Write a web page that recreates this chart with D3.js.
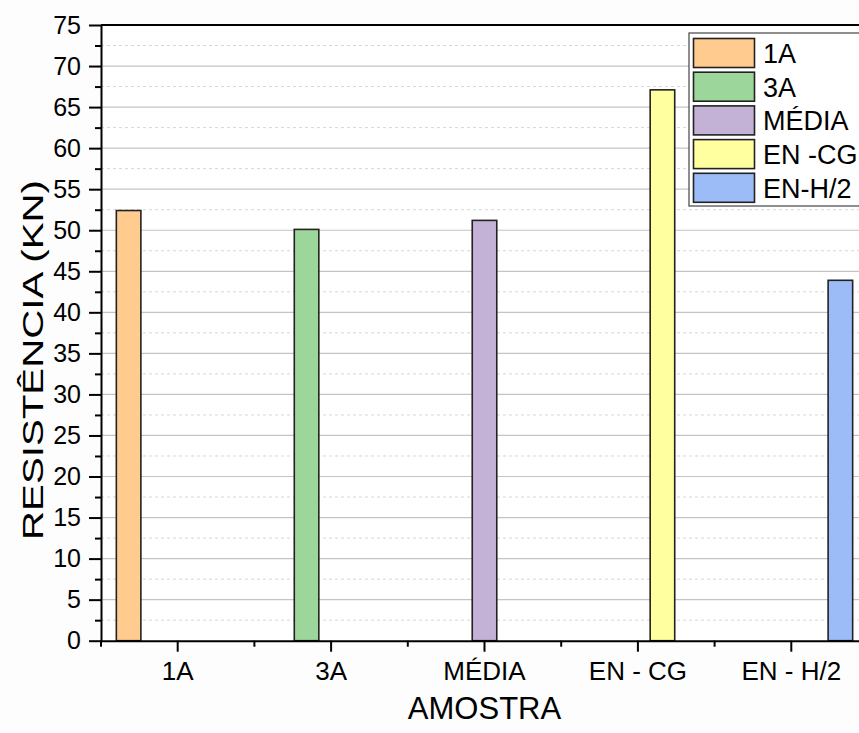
<!DOCTYPE html>
<html>
<head>
<meta charset="utf-8">
<script src="https://cdn.jsdelivr.net/npm/d3@7"></script>
<style>
  html, body { margin: 0; padding: 0; background: #fdfdfd; }
  svg { display: block; font-family: Arial, "Liberation Sans", sans-serif; }
</style>
</head>
<body>
<svg id="chart" width="859" height="733"></svg>
<script>
// ---- data ----
const categories = ["1A", "3A", "MÉDIA", "EN - CG", "EN - H/2"];
const seriesNames = ["1A", "3A", "MÉDIA", "EN -CG", "EN-H/2"];
const series1A    = [52.4, null, null, null, null];
const series3A    = [null, 50.1, null, null, null];
const seriesMedia = [null, null, 51.2, null, null];
const seriesENCG  = [null, null, null, 67.1, null];
const seriesENH2  = [null, null, null, null, 43.9];
const seriesColors = ["#FFCB8E", "#9CD69A", "#C4B1D6", "#FFFF9F", "#9BBCF6"];
const yTicks = [0, 5, 10, 15, 20, 25, 30, 35, 40, 45, 50, 55, 60, 65, 70, 75];
const yMinorTicks = [2.5, 7.5, 12.5, 17.5, 22.5, 27.5, 32.5, 37.5, 42.5, 47.5, 52.5, 57.5, 62.5, 67.5, 72.5];
const xLabel = "AMOSTRA";
const yLabel = "RESISTÊNCIA (KN)";

const seriesValues = [series1A, series3A, seriesMedia, seriesENCG, seriesENH2];

// ---- layout ----
const plot = { left: 101, top: 25, right: 868, bottom: 640.7 };
const svg = d3.select("#chart");

const x = d3.scaleBand().domain(categories).range([plot.left, plot.right]).padding(0);
const xInner = d3.scaleBand().domain(seriesNames)
  .range([x.bandwidth() * 0.1, x.bandwidth() * 0.9]).padding(0);
const y = d3.scaleLinear().domain([0, 75]).range([plot.bottom, plot.top]);

// plot background
svg.append("rect").attr("x", plot.left).attr("y", plot.top)
  .attr("width", plot.right - plot.left).attr("height", plot.bottom - plot.top)
  .attr("fill", "#ffffff");

// grid lines
const grid = svg.append("g");
grid.selectAll("line.minor").data(yMinorTicks).join("line")
  .attr("class", "minor")
  .attr("x1", plot.left).attr("x2", plot.right)
  .attr("y1", d => y(d)).attr("y2", d => y(d))
  .attr("stroke", "#d6d6d6").attr("stroke-width", 1).attr("stroke-dasharray", "3,3");
grid.selectAll("line.major").data(yTicks.filter(d => d > 0 && d < 75)).join("line")
  .attr("class", "major")
  .attr("x1", plot.left).attr("x2", plot.right)
  .attr("y1", d => y(d)).attr("y2", d => y(d))
  .attr("stroke", "#c4c4c4").attr("stroke-width", 1.2);

// bars
const barData = [];
seriesNames.forEach((s, si) => {
  seriesValues[si].forEach((v, ci) => {
    if (v !== null) barData.push({ series: s, cat: categories[ci], value: v, color: seriesColors[si] });
  });
});
svg.append("g").selectAll("rect").data(barData).join("rect")
  .attr("x", d => x(d.cat) + xInner(d.series))
  .attr("width", xInner.bandwidth())
  .attr("y", d => y(d.value))
  .attr("height", d => y(0) - y(d.value))
  .attr("fill", d => d.color)
  .attr("stroke", "#222").attr("stroke-width", 1.6);

// frame (top and right)
svg.append("line").attr("x1", plot.left).attr("x2", plot.right)
  .attr("y1", plot.top).attr("y2", plot.top).attr("stroke", "#000").attr("stroke-width", 2);
svg.append("line").attr("x1", plot.right).attr("x2", plot.right)
  .attr("y1", plot.top).attr("y2", plot.bottom).attr("stroke", "#000").attr("stroke-width", 2);

// y axis
const yAxis = svg.append("g").attr("transform", `translate(${plot.left},0)`)
  .call(d3.axisLeft(y).tickValues(yTicks).tickSize(12).tickPadding(8).tickFormat(d3.format("d")).tickSizeOuter(0));
yAxis.select(".domain").attr("stroke", "#000").attr("stroke-width", 2);
yAxis.selectAll(".tick line").attr("stroke", "#000").attr("stroke-width", 2);
yAxis.selectAll(".tick text").attr("font-size", 25).attr("fill", "#000")
  .attr("font-family", "Arial, 'Liberation Sans', sans-serif");
const yMinor = svg.append("g").attr("transform", `translate(${plot.left},0)`)
  .call(d3.axisLeft(y).tickValues(yMinorTicks).tickSize(6).tickFormat(""));
yMinor.select(".domain").remove();
yMinor.selectAll(".tick line").attr("stroke", "#000").attr("stroke-width", 2);

// x axis
const xAxis = svg.append("g").attr("transform", `translate(0,${plot.bottom})`)
  .call(d3.axisBottom(x).tickSize(11).tickPadding(10).tickSizeOuter(0));
xAxis.select(".domain").attr("stroke", "#000").attr("stroke-width", 2);
xAxis.selectAll(".tick line").attr("stroke", "#000").attr("stroke-width", 2);
xAxis.selectAll(".tick text").attr("font-size", 26).attr("fill", "#000")
  .attr("font-family", "Arial, 'Liberation Sans', sans-serif");
// minor x ticks at band boundaries
const xBounds = categories.map(c => x(c)).concat([plot.right]);
svg.append("g").selectAll("line").data(xBounds).join("line")
  .attr("x1", d => d).attr("x2", d => d)
  .attr("y1", plot.bottom).attr("y2", plot.bottom + 6)
  .attr("stroke", "#000").attr("stroke-width", 2);

// axis titles
svg.append("text")
  .attr("x", (plot.left + plot.right) / 2).attr("y", 719)
  .attr("text-anchor", "middle").attr("font-size", 31).attr("fill", "#000")
  .text(xLabel);
svg.append("text")
  .attr("transform", "translate(43,360) rotate(-90)")
  .attr("text-anchor", "middle").attr("font-size", 30).attr("fill", "#000")
  .attr("textLength", 360).attr("lengthAdjust", "spacingAndGlyphs")
  .text(yLabel);

// legend
const legend = svg.append("g").attr("transform", "translate(689,33)");
legend.append("rect").attr("x", 0).attr("y", 0).attr("width", 200).attr("height", 173)
  .attr("fill", "#fff").attr("stroke", "#444").attr("stroke-width", 1.2);
const rowH = 33.7;
const items = legend.selectAll("g.item").data(seriesNames).join("g")
  .attr("class", "item")
  .attr("transform", (d, i) => `translate(0,${5 + i * rowH})`);
items.append("rect").attr("x", 4.5).attr("y", 0.5).attr("width", 61).attr("height", 29)
  .attr("fill", (d, i) => seriesColors[i]).attr("stroke", "#222").attr("stroke-width", 1.6);
items.append("text").attr("x", 74).attr("y", 25).attr("font-size", 27).attr("fill", "#000")
  .text(d => d);
</script>
</body>
</html>
